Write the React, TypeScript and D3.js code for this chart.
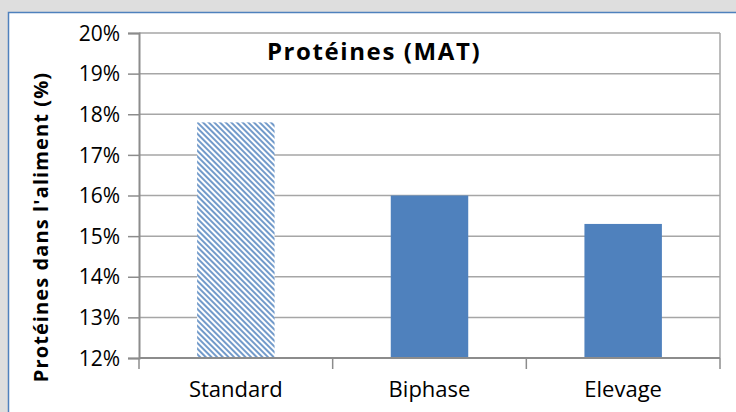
import React, { useEffect, useRef } from 'react';
import * as d3 from 'd3';

const categories = ['Standard', 'Biphase', 'Elevage'];
const values = [0.178, 0.16, 0.153];
const hatched = [true, false, false];
const yTicks = [0.12, 0.13, 0.14, 0.15, 0.16, 0.17, 0.18, 0.19, 0.2];

const ProteinChart: React.FC = () => {
  const svgRef = useRef<SVGSVGElement>(null);

  useEffect(() => {
    const width = 736;
    const height = 412;
    const margin = { top: 33, right: 16, bottom: 54, left: 139 };
    const font = "'Open Sans', sans-serif";

    const svg = d3.select(svgRef.current);
    svg.selectAll('*').remove();
    svg.attr('width', width).attr('height', height);

    // background + chart frame
    svg.append('rect').attr('width', width).attr('height', height).attr('fill', '#dedede');
    svg.append('rect')
      .attr('x', 8.5).attr('y', 12.5)
      .attr('width', width + 10).attr('height', height + 10)
      .attr('fill', '#ffffff')
      .attr('stroke', '#4f81bd')
      .attr('stroke-width', 1.5);

    const defs = svg.append('defs');
    const pat = defs.append('pattern')
      .attr('id', 'hatch')
      .attr('patternUnits', 'userSpaceOnUse')
      .attr('width', 4).attr('height', 4)
      .attr('patternTransform', 'rotate(-45)');
    pat.append('rect').attr('width', 4).attr('height', 4).attr('fill', '#ffffff');
    pat.append('line')
      .attr('x1', 1).attr('y1', 0).attr('x2', 1).attr('y2', 4)
      .attr('stroke', '#4f81bd').attr('stroke-width', 1.6);

    const x = d3.scaleBand<string>()
      .domain(categories)
      .range([margin.left, width - margin.right])
      .paddingInner(0.6)
      .paddingOuter(0.3);

    const y = d3.scaleLinear()
      .domain([0.12, 0.2])
      .range([height - margin.bottom, margin.top]);

    // gridlines
    svg.append('g')
      .selectAll('line')
      .data(yTicks)
      .enter()
      .append('line')
      .attr('x1', margin.left).attr('x2', width - margin.right)
      .attr('y1', d => y(d)).attr('y2', d => y(d))
      .attr('stroke', '#a6a6a6')
      .attr('stroke-width', 1.5);

    // right border of plot area
    svg.append('line')
      .attr('x1', width - margin.right).attr('x2', width - margin.right)
      .attr('y1', margin.top).attr('y2', height - margin.bottom)
      .attr('stroke', '#a6a6a6').attr('stroke-width', 1.5);

    // bars
    svg.append('g')
      .selectAll('rect')
      .data(categories)
      .enter()
      .append('rect')
      .attr('x', d => x(d) as number)
      .attr('width', x.bandwidth())
      .attr('y', (d, i) => y(values[i]))
      .attr('height', (d, i) => y(0.12) - y(values[i]))
      .attr('fill', (d, i) => (hatched[i] ? 'url(#hatch)' : '#4f81bd'));

    // y axis
    const yAxis = svg.append('g')
      .attr('transform', `translate(${margin.left},0)`)
      .call(d3.axisLeft(y).tickValues(yTicks).tickFormat(d3.format('.0%')).tickSize(11).tickPadding(8));
    yAxis.select('.domain').attr('stroke', '#8c8c8c').attr('stroke-width', 2);
    yAxis.selectAll('.tick line').attr('stroke', '#8c8c8c').attr('stroke-width', 1.5);
    yAxis.selectAll('text')
      .attr('font-family', font)
      .attr('font-size', 21)
      .attr('dy', '0.34em')
      .attr('fill', '#000');

    // x axis with ticks between categories
    const plotW = width - margin.right - margin.left;
    const sepPositions = d3.range(categories.length + 1).map(i => margin.left + (plotW / categories.length) * i);
    svg.append('line')
      .attr('x1', margin.left).attr('x2', width - margin.right)
      .attr('y1', y(0.12)).attr('y2', y(0.12))
      .attr('stroke', '#8c8c8c').attr('stroke-width', 2);
    svg.append('g')
      .selectAll('line')
      .data(sepPositions)
      .enter()
      .append('line')
      .attr('x1', d => d).attr('x2', d => d)
      .attr('y1', y(0.12)).attr('y2', y(0.12) + 11)
      .attr('stroke', '#8c8c8c').attr('stroke-width', 1.5);

    svg.append('g')
      .selectAll('text')
      .data(categories)
      .enter()
      .append('text')
      .attr('x', d => (x(d) as number) + x.bandwidth() / 2)
      .attr('y', y(0.12) + 39)
      .attr('text-anchor', 'middle')
      .attr('font-family', font)
      .attr('font-size', 22)
      .attr('fill', '#000')
      .text(d => d);

    // title
    svg.append('text')
      .attr('x', 374)
      .attr('y', 60)
      .attr('text-anchor', 'middle')
      .attr('font-family', font)
      .attr('font-weight', 'bold')
      .attr('font-size', 24)
      .attr('letter-spacing', 1.6)
      .attr('fill', '#000')
      .text('Protéines (MAT)');

    // y axis title
    svg.append('text')
      .attr('transform', 'translate(48,227) rotate(-90)')
      .attr('text-anchor', 'middle')
      .attr('font-family', font)
      .attr('font-weight', 'bold')
      .attr('font-size', 20)
      .attr('letter-spacing', 1.1)
      .attr('fill', '#000')
      .text("Protéines dans l'aliment (%)");
  }, []);

  return (
    <svg ref={svgRef} style={{ position: 'absolute', left: 0, top: 0, display: 'block' }}></svg>
  );
};

const App: React.FC = () => {
  return <ProteinChart />;
};

export default App;
